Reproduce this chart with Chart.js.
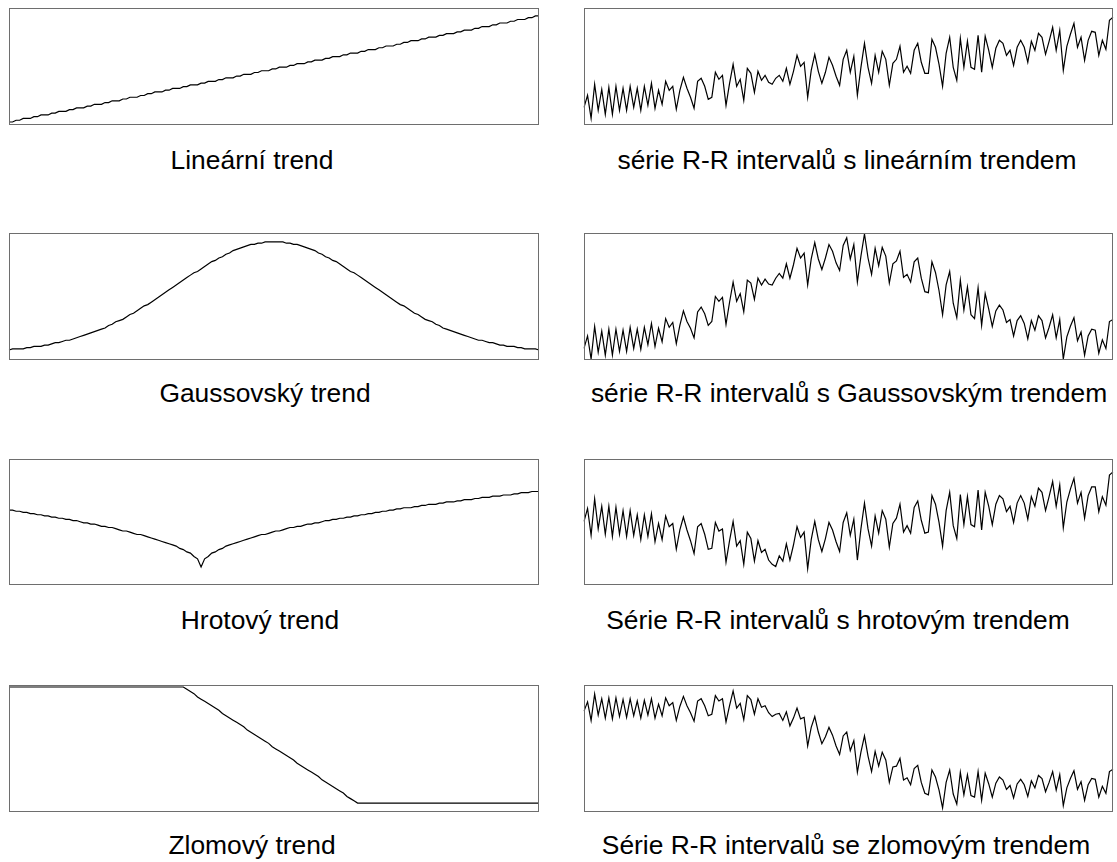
<!DOCTYPE html>
<html>
<head>
<meta charset="utf-8">
<script src="https://cdn.jsdelivr.net/npm/chart.js@4.4.0/dist/chart.umd.min.js"></script>
<style>
  html, body { margin: 0; padding: 0; background: #fff; }
  #page { position: relative; width: 1117px; height: 862px; overflow: hidden; background: #fff; }
  .panel { position: absolute; display: block; }
  .cap {
    position: absolute;
    font-family: "Liberation Sans", Arial, sans-serif;
    font-size: 26.4px;
    line-height: 30px;
    color: #000;
    white-space: nowrap;
    transform: translateX(-50%);
  }
</style>
</head>
<body>
<div id="page"></div>
<script>
// Short-term variability of the R-R intervals (same for every series), in ms
const rrNoise = [
  -7, 5, -19, 15, -12, 9, -16, 10, -17, 10,
  -14, 8, -15, 9, -13, 6, -16, 7, -12, 9,
  -16, 2, -13, 10, 0, 4, -19, -1, 12, 0,
  -9, -20, 6, 9, 0, -13, -11, 13, 6, 9,
  -21, 0, 19, -3, 3, -18, 13, 8, -11, 9,
  0, 4, -3, -5, 0, 3, -4, 9, -7, 5,
  21, 9, 13, -22, 4, 20, 2, -10, 1, 15,
  7, -5, -14, 12, 20, -2, 13, -26, 2, 25,
  1, -16, 12, -5, 15, 7, -20, 2, 6, 18,
  -8, -3, -10, 13, 19, 0, -12, -12, 22, 13,
  -4, -27, 6, 22, -9, -22, 19, -10, 16, -11,
  -13, 20, -17, 18, 4, -13, 5, 13, 9, -3,
  2, -14, 4, 10, 3, -12, 8, -1, 15, 11,
  -6, 6, 20, -4, 16, -24, -1, 11, 21, -3,
  7, -17, 3, 11, 10, -13, 1, -8, 20, 23
];

// Lineární trend
const linearTrend = [
  0, 0, 1, 1, 2, 2, 2, 3, 3, 4,
  4, 4, 5, 5, 6, 6, 6, 7, 7, 8,
  8, 8, 9, 9, 10, 10, 10, 11, 11, 12,
  12, 12, 13, 13, 14, 14, 14, 15, 15, 16,
  16, 17, 17, 17, 18, 18, 19, 19, 19, 20,
  20, 21, 21, 21, 22, 22, 23, 23, 23, 24,
  24, 25, 25, 25, 26, 26, 27, 27, 27, 28,
  28, 29, 29, 29, 30, 30, 31, 31, 31, 32,
  32, 33, 33, 33, 34, 34, 35, 35, 35, 36,
  36, 37, 37, 37, 38, 38, 39, 39, 39, 40,
  40, 41, 41, 41, 42, 42, 43, 43, 43, 44,
  44, 45, 45, 46, 46, 46, 47, 47, 48, 48,
  48, 49, 49, 50, 50, 50, 51, 51, 52, 52,
  52, 53, 53, 54, 54, 54, 55, 55, 56, 56,
  56, 57, 57, 58, 58, 58, 59, 59, 60, 60
];

// Gaussovský trend
const gaussTrend = [
  2, 3, 3, 3, 3, 4, 4, 5, 5, 5,
  6, 6, 7, 8, 8, 9, 10, 10, 11, 12,
  13, 14, 15, 16, 17, 18, 19, 20, 22, 23,
  25, 26, 27, 29, 31, 32, 34, 36, 38, 39,
  41, 43, 45, 47, 49, 51, 53, 55, 57, 59,
  61, 63, 65, 66, 68, 70, 72, 74, 75, 77,
  78, 80, 81, 83, 84, 85, 86, 87, 88, 88,
  89, 89, 90, 90, 90,
  90, 90, 90, 89, 89,
  88, 88, 87, 86, 85, 84, 83, 81, 80, 78,
  77, 75, 74, 72, 70, 68, 66, 65, 63, 61,
  59, 57, 55, 53, 51, 49, 47, 45, 43, 41,
  39, 38, 36, 34, 32, 31, 29, 27, 26, 25,
  23, 22, 20, 19, 18, 17, 16, 15, 14, 13,
  12, 11, 10, 10, 9, 8, 8, 7, 6, 6,
  5, 5, 5, 4, 4, 3, 3, 3, 3, 2
];

// Hrotový trend
const spikeTrend = [
  49, 49, 48, 48, 47, 47, 46, 46, 45, 45,
  44, 44, 43, 43, 42, 42, 41, 41, 40, 40,
  39, 38, 38, 37, 37, 36, 35, 35, 34, 34,
  33, 32, 31, 31, 30, 29, 28, 28, 27, 26,
  25, 24, 23, 22, 21, 20, 19, 18, 16, 15,
  13, 12, 9, 7, 0,
  7, 9, 12, 13, 15, 16, 18, 19, 20, 21,
  22, 23, 24, 25, 26, 27, 28, 28, 29, 30,
  31, 31, 32, 33, 34, 34, 35, 35, 36, 37,
  37, 38, 38, 39, 40, 40, 41, 41, 42, 42,
  43, 43, 44, 44, 45, 45, 46, 46, 47, 47,
  48, 48, 49, 49, 50, 50, 51, 51, 51, 52,
  52, 53, 53, 54, 54, 54, 55, 55, 56, 56,
  56, 57, 57, 58, 58, 58, 59, 59, 60, 60,
  60, 61, 61, 61, 62, 62, 62, 63, 63, 64,
  64, 64, 65, 65, 65
];

// Zlomový trend
const breakTrend = [
  105, 105, 105, 105, 105, 105, 105, 105, 105, 105,
  105, 105, 105, 105, 105, 105, 105, 105, 105, 105,
  105, 105, 105, 105, 105, 105, 105, 105, 105, 105,
  105, 105, 105, 105, 105, 105, 105, 105, 105, 105,
  105, 105, 105, 105, 105, 105, 105, 105, 105, 105,
  103, 101, 99, 96, 94, 92, 90, 88, 86, 84,
  81, 79, 77, 75, 73, 71, 69, 66, 64, 62,
  60, 58, 56, 54, 51, 49, 47, 45, 43, 41,
  39, 36, 34, 32, 30, 28, 26, 24, 21, 19,
  17, 15, 13, 11, 9, 6, 4, 2, 0, 0,
  0, 0, 0, 0, 0, 0, 0, 0, 0, 0,
  0, 0, 0, 0, 0, 0, 0, 0, 0, 0,
  0, 0, 0, 0, 0, 0, 0, 0, 0, 0,
  0, 0, 0, 0, 0, 0, 0, 0, 0, 0,
  0, 0, 0, 0, 0, 0, 0, 0, 0, 0
];

// Panel captions
const trendTitles = ["Lineární trend", "Gaussovský trend", "Hrotový trend", "Zlomový trend"];
const seriesTitles = [
  "série R-R intervalů s lineárním trendem",
  "série R-R intervalů s Gaussovským trendem",
  "Série R-R intervalů s hrotovým trendem",
  "Série R-R intervalů se zlomovým trendem"
];

// Vertical axis limits of each panel (trend panel, R-R series panel)
const trendLimits = [[-1.7, 64.5], [-6.1, 97.3], [-15.5, 93], [-8.1, 106.8]];
const seriesLimits = [[-24.7, 92.3], [-17, 115], [-17.2, 100], [-32.2, 131.7]];

const sampleIndex = rrNoise.map((_, i) => i);
const trends = [linearTrend, gaussTrend, spikeTrend, breakTrend];

// R-R series = trend + variability
const rrSeries = trends.map(t => t.map((v, i) => v + rrNoise[i]));

// Page geometry of the plot boxes
const rowTop = [8, 233, 459, 685];
const rowHeight = [117, 127, 126, 127];
const leftBox = { x: 9, w: 530 };
const rightBox = { x: 584, w: 529 };
const captionBaseline = [169, 402, 629, 854];
const trendCaptionX = [252, 265, 260, 252];
const seriesCaptionX = [847, 849, 838, 846];

const PAD = 2;

const framePlugin = {
  id: 'frame',
  afterDraw(chart) {
    const { ctx, chartArea: a } = chart;
    ctx.save();
    ctx.strokeStyle = '#6e6e6e';
    ctx.lineWidth = 1;
    ctx.strokeRect(Math.round(a.left) + 0.5, Math.round(a.top) + 0.5,
                   Math.round(a.right - a.left) - 1, Math.round(a.bottom - a.top) - 1);
    ctx.restore();
  }
};

const page = document.getElementById('page');

function addPanel(x, y, w, h, values, lim) {
  const c = document.createElement('canvas');
  c.className = 'panel';
  c.width = w + 2 * PAD;
  c.height = h + 2 * PAD;
  c.style.left = (x - PAD) + 'px';
  c.style.top = (y - PAD) + 'px';
  c.style.width = (w + 2 * PAD) + 'px';
  c.style.height = (h + 2 * PAD) + 'px';
  page.appendChild(c);
  new Chart(c, {
    type: 'line',
    data: {
      labels: sampleIndex,
      datasets: [{
        data: values,
        borderColor: '#000',
        borderWidth: 1.2,
        pointRadius: 0,
        tension: 0,
        fill: false
      }]
    },
    options: {
      responsive: false,
      animation: false,
      devicePixelRatio: 1,
      layout: { padding: PAD },
      plugins: { legend: { display: false }, tooltip: { enabled: false }, title: { display: false } },
      scales: {
        x: { display: false, offset: false },
        y: { display: false, min: lim[0], max: lim[1] }
      }
    },
    plugins: [framePlugin]
  });
}

function addCaption(text, cx, baseline) {
  const d = document.createElement('div');
  d.className = 'cap';
  d.textContent = text;
  d.style.left = cx + 'px';
  d.style.top = (baseline - 24) + 'px';
  page.appendChild(d);
}

for (let r = 0; r < 4; r++) {
  addPanel(leftBox.x, rowTop[r], leftBox.w, rowHeight[r], trends[r], trendLimits[r]);
  addPanel(rightBox.x, rowTop[r], rightBox.w, rowHeight[r], rrSeries[r], seriesLimits[r]);
  addCaption(trendTitles[r], trendCaptionX[r], captionBaseline[r]);
  addCaption(seriesTitles[r], seriesCaptionX[r], captionBaseline[r]);
}
</script>
</body>
</html>
